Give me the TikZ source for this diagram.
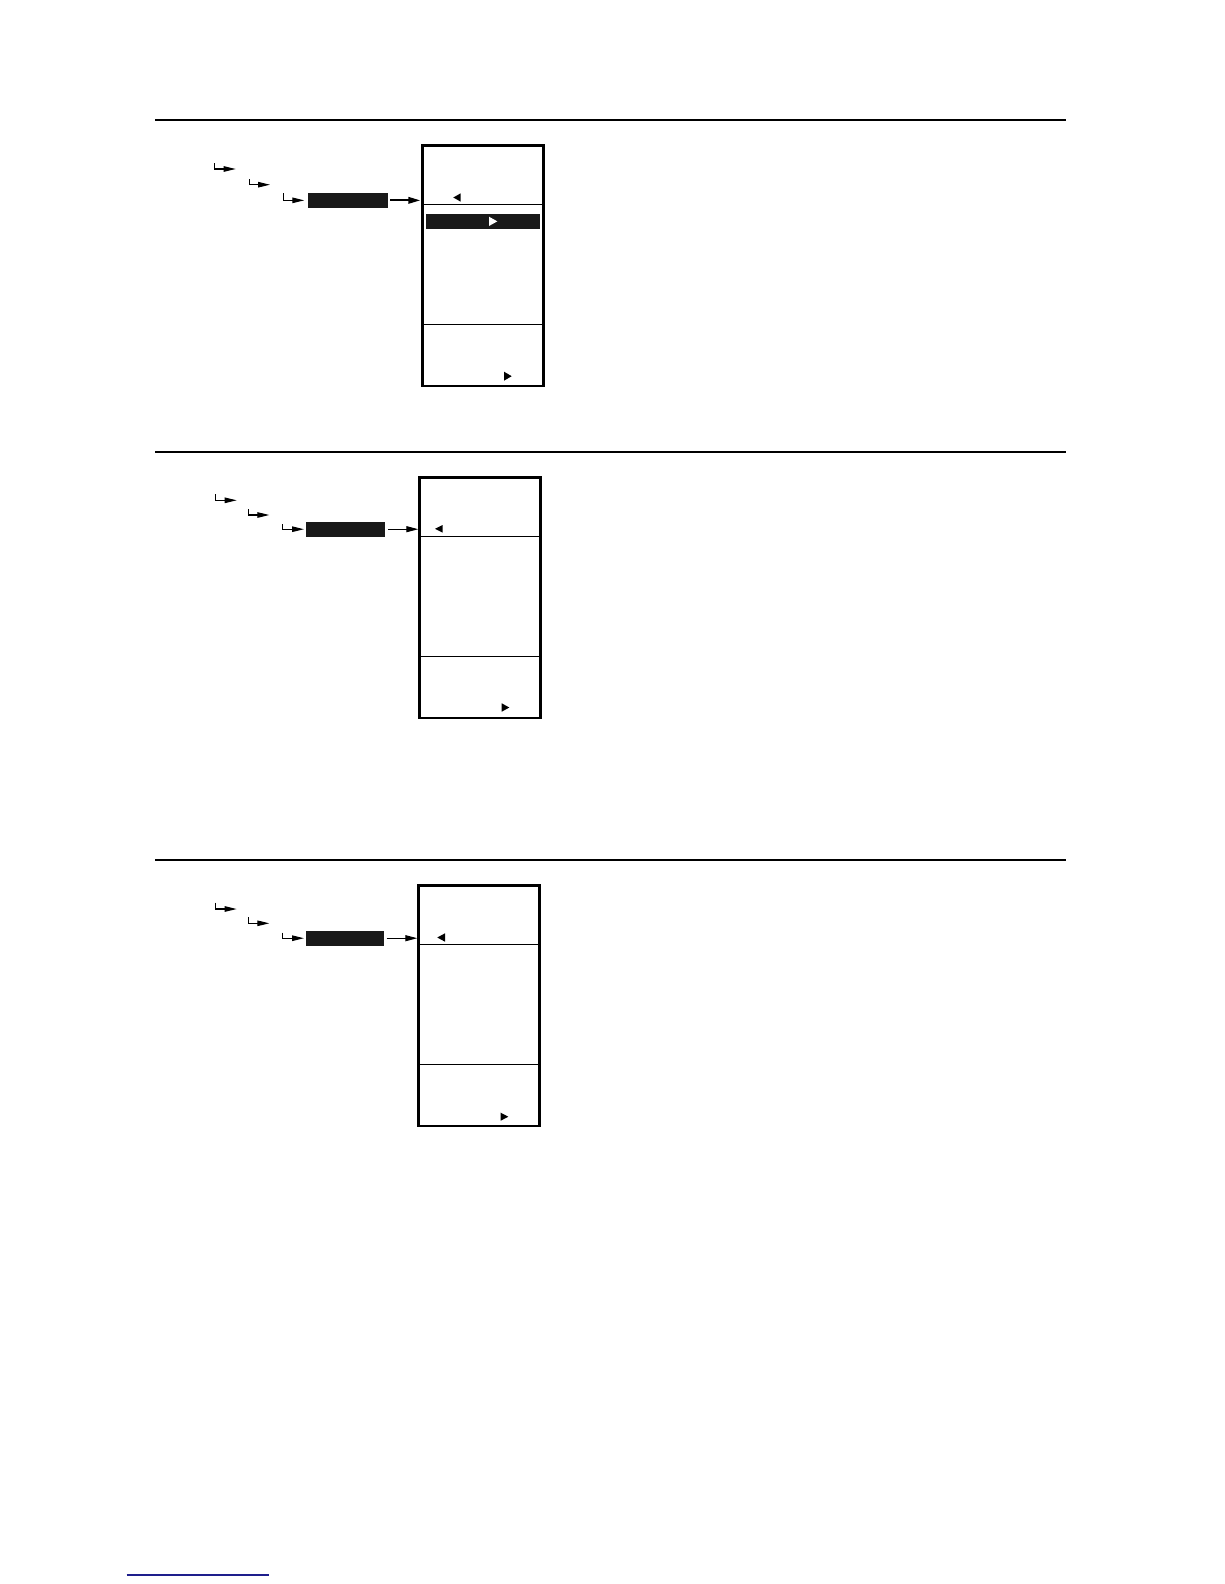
\documentclass[tikz,border=0pt]{standalone}
\usetikzlibrary{arrows.meta}
\definecolor{navy}{RGB}{30,30,140}
\begin{document}
\begin{tikzpicture}[x=1pt,y=-1pt,
  rulebar/.style={line width=2.2pt},
  menubox/.style={draw, line width=2.7pt, rectangle, inner sep=0pt, outer sep=0pt},
  divider/.style={line width=1pt},
  btn/.style={fill=black!90, rectangle, inner sep=0pt, outer sep=0pt},
  larrow/.style={line width=1.1pt, -{Triangle[length=12pt,width=5.5pt]}},
  conn/.style={line width=1.1pt, -{Triangle[length=12pt,width=6pt]}},
  conn1/.style={line width=2pt, -{Triangle[length=12pt,width=6.5pt]}},
  tri/.style={fill=black},
]
\useasboundingbox (0,0) rectangle (1224,1584);
\fill[white] (0,0) rectangle (1224,1584);

% ---------------- Section 1 ----------------
\draw[rulebar] (155,120) -- (1066,120);
\node[menubox, minimum width=120.6pt, minimum height=240.3pt] (box1) at (483,265.85) {};
\draw[divider] (box1.west |- 0,204.3) -- (box1.east |- 0,204.3);
\draw[divider] (box1.west |- 0,324.3) -- (box1.east |- 0,324.3);
\fill[tri] (453.3,197.5) -- (460.7,193.3) -- (460.7,201.7) -- cycle;
\node[btn, minimum width=114.3pt, minimum height=14.7pt] (sel1) at (482.85,221.35) {};
\fill[white] (489,216.7) -- (489,226) -- (497.3,221.35) -- cycle;
\fill[tri] (504,371.7) -- (504,380.7) -- (511.7,376.2) -- cycle;
\node[btn, minimum width=79.4pt, minimum height=14.7pt] (btn1) at (348,200.35) {};
\draw[conn1, shorten <=2.3pt, shorten >=2.4pt] (btn1.east) -- (btn1.east -| box1.west);
\coordinate (a1s) at (214.3,163.3); \coordinate (a1e) at (235.7,169);
\coordinate (b1s) at (249.3,179);   \coordinate (b1e) at (270,184.7);
\coordinate (c1s) at (283.3,193.3);
\draw[larrow] (a1s) |- (a1e);
\draw[larrow] (b1s) |- (b1e);
\draw[larrow, shorten >=4pt] (c1s) |- (btn1.west);

% ---------------- Section 2 ----------------
\draw[rulebar] (155,452) -- (1066,452);
\node[menubox, minimum width=120.6pt, minimum height=240.7pt] (box2) at (480,597.65) {};
\draw[divider] (box2.west |- 0,536.3) -- (box2.east |- 0,536.3);
\draw[divider] (box2.west |- 0,656.3) -- (box2.east |- 0,656.3);
\fill[tri] (435,528.85) -- (442.7,525) -- (442.7,532.7) -- cycle;
\fill[tri] (501.7,703.3) -- (501.7,711.7) -- (509.3,707.5) -- cycle;
\node[btn, minimum width=79.3pt, minimum height=15pt] (btn2) at (345.35,529.2) {};
\draw[conn, shorten <=3.3pt, shorten >=1.4pt] (btn2.east) -- (btn2.east -| box2.west);
\coordinate (a2s) at (215.3,494);   \coordinate (a2e) at (236.7,500.3);
\coordinate (b2s) at (248.3,509.3); \coordinate (b2e) at (269.3,515);
\coordinate (c2s) at (282.7,524);
\draw[larrow] (a2s) |- (a2e);
\draw[larrow] (b2s) |- (b2e);
\draw[larrow, shorten >=1.7pt] (c2s) |- (btn2.west);

% ---------------- Section 3 ----------------
\draw[rulebar] (155,860) -- (1066,860);
\node[menubox, minimum width=120.6pt, minimum height=240.7pt] (box3) at (479,1005.65) {};
\draw[divider] (box3.west |- 0,944.3) -- (box3.east |- 0,944.3);
\draw[divider] (box3.west |- 0,1064.3) -- (box3.east |- 0,1064.3);
\fill[tri] (437.3,937.5) -- (445,933.3) -- (445,941.7) -- cycle;
\fill[tri] (500.7,1112.7) -- (500.7,1120.7) -- (508.3,1116.7) -- cycle;
\node[btn, minimum width=78.6pt, minimum height=15pt] (btn3) at (345,938.2) {};
\draw[conn, shorten <=2.4pt, shorten >=1.4pt] (btn3.east) -- (btn3.east -| box3.west);
\coordinate (a3s) at (215.3,902.7); \coordinate (a3e) at (236.7,909);
\coordinate (b3s) at (248.3,917.3); \coordinate (b3e) at (269.3,923.3);
\coordinate (c3s) at (282.7,932.7);
\draw[larrow] (a3s) |- (a3e);
\draw[larrow] (b3s) |- (b3e);
\draw[larrow, shorten >=1.7pt] (c3s) |- (btn3.west);

% ---------------- bottom blue line ----------------
\coordinate (bl1) at (126.7,1575); \coordinate (bl2) at (269,1575);
\draw[navy, line width=1.2pt] (bl1) -- (bl2);
\end{tikzpicture}
\end{document}
